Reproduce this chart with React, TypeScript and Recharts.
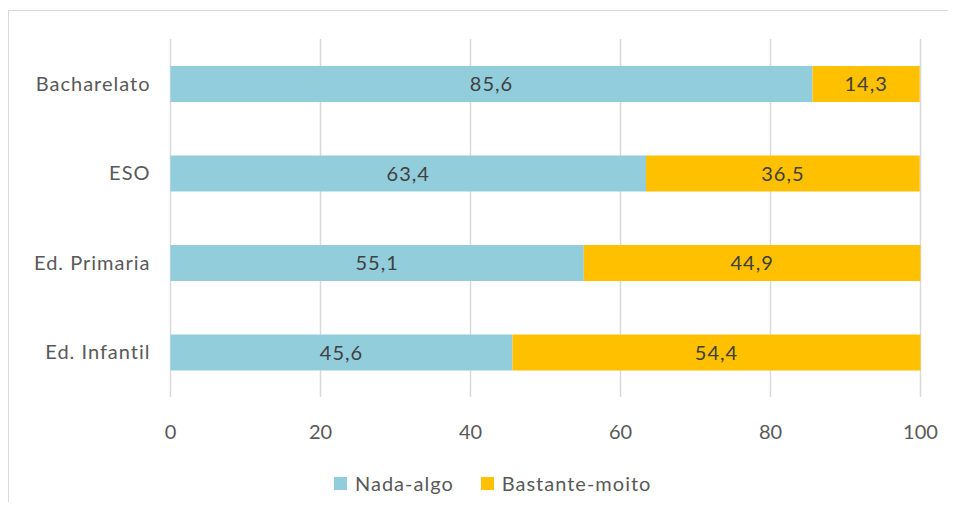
import React from "react";
import { BarChart, Bar, XAxis, YAxis, CartesianGrid, LabelList } from "recharts";

const categories = ["Bacharelato", "ESO", "Ed. Primaria", "Ed. Infantil"];
const nadaAlgo = [85.6, 63.4, 55.1, 45.6];
const bastanteMoito = [14.3, 36.5, 44.9, 54.4];
const xTicks = [0, 20, 40, 60, 80, 100];
const seriesNames = ["Nada-algo", "Bastante-moito"];
const seriesColors = ["#92CDDC", "#FFC000"];

const data = categories.map((name, i) => ({
  name,
  a: nadaAlgo[i],
  b: bastanteMoito[i],
}));

const FONT = "Lato, 'Open Sans', sans-serif";
const fmt = (v: any) => String(v).replace(".", ",");

export default function App() {
  return (
    <div
      style={{
        position: "relative",
        width: 956,
        height: 510,
        margin: -8,
        overflow: "hidden",
        background: "#fff",
        fontFamily: FONT,
      }}
    >
      <div
        style={{
          position: "absolute",
          left: 8,
          top: 10,
          width: 1200,
          height: 800,
          borderTop: "1px solid #D9D9D9",
          borderLeft: "1px solid #D9D9D9",
        }}
      />
      <div style={{ position: "absolute", left: 0, top: 0 }}>
        <BarChart
          layout="vertical"
          width={956}
          height={510}
          data={data}
          margin={{ top: 39, right: 35.5, bottom: 83, left: 0 }}
        >
          <CartesianGrid horizontal={false} stroke="#D9D9D9" strokeWidth={1.5} />
          <XAxis
            type="number"
            domain={[0, 100]}
            ticks={xTicks}
            axisLine={false}
            tickLine={false}
            tickMargin={22}
            height={30}
            tick={{ fill: "#595959", fontSize: 20, fontFamily: FONT }}
          />
          <YAxis
            type="category"
            dataKey="name"
            width={170.5}
            axisLine={false}
            tickLine={false}
            tickMargin={14}
            tick={{ fill: "#595959", fontSize: 20, fontFamily: FONT, letterSpacing: 1 }}
          />
          <Bar dataKey="a" stackId="s" fill={seriesColors[0]} barSize={36} isAnimationActive={false} name={seriesNames[0]}>
            <LabelList
              dataKey="a"
              position="center"
              formatter={fmt}
              style={{ fill: "#404040", fontSize: 20, fontFamily: FONT, letterSpacing: 1 }}
            />
          </Bar>
          <Bar dataKey="b" stackId="s" fill={seriesColors[1]} barSize={36} isAnimationActive={false} name={seriesNames[1]}>
            <LabelList
              dataKey="b"
              position="center"
              formatter={fmt}
              style={{ fill: "#404040", fontSize: 20, fontFamily: FONT, letterSpacing: 1 }}
            />
          </Bar>
        </BarChart>
      </div>
      <div
        style={{
          position: "absolute",
          left: 334,
          top: 471,
          display: "flex",
          alignItems: "center",
          height: 24,
          color: "#595959",
          fontSize: 20,
          letterSpacing: 1,
        }}
      >
        {seriesNames.map((n, i) => (
          <div key={n} style={{ display: "flex", alignItems: "center", marginRight: 27 }}>
            <span style={{ display: "inline-block", width: 13, height: 13, background: seriesColors[i], marginRight: 8 }} />
            <span>{n}</span>
          </div>
        ))}
      </div>
    </div>
  );
}
